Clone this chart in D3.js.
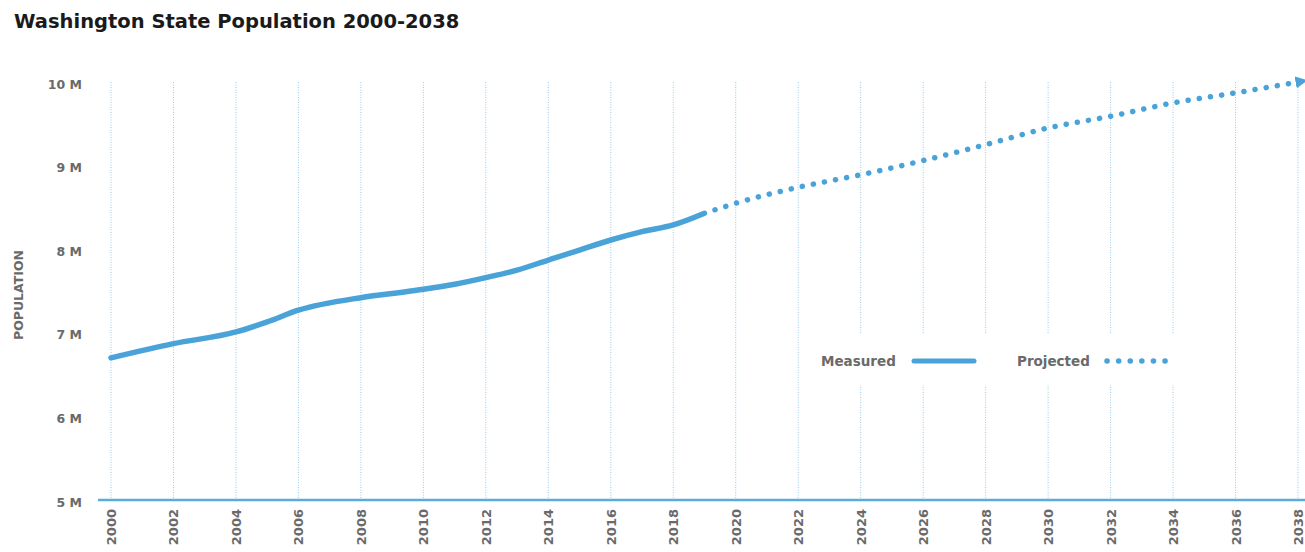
<!DOCTYPE html>
<html>
<head>
<meta charset="utf-8">
<script src="https://cdn.jsdelivr.net/npm/d3@7"></script>
<style>
  body { margin: 0; background: #fff; }
  text { font-family: "DejaVu Sans", Lato, sans-serif; }
</style>
</head>
<body>
<svg id="chart" width="1305" height="552"></svg>
<script>
// Washington State population, millions
var measuredYears = [2000, 2002, 2004, 2005, 2006, 2008, 2009, 2010, 2011, 2012, 2013, 2014, 2015, 2016, 2017, 2018, 2019];
var measuredPop   = [6.70, 6.87, 7.01, 7.13, 7.27, 7.42, 7.47, 7.52, 7.58, 7.66, 7.75, 7.87, 7.99, 8.11, 8.21, 8.29, 8.43];

var projectedYears = [2019, 2020, 2022, 2024, 2026, 2028, 2030, 2032, 2034, 2036, 2038];
var projectedPop   = [8.43, 8.55, 8.74, 8.89, 9.06, 9.25, 9.45, 9.59, 9.75, 9.87, 10.0];

var yTicks = [5, 6, 7, 8, 9, 10];
var xTicks = d3.range(2000, 2039, 2);

var lineColor = "#4aa3d8";
var labelColor = "#6a6a6a";

var svg = d3.select("#chart");

var x = d3.scaleLinear().domain([2000, 2038]).range([111, 1298]);
var y = d3.scaleLinear().domain([5, 10]).range([500, 82]);

svg.append("text")
  .attr("x", 14)
  .attr("y", 28)
  .style("font-size", "19.5px")
  .style("font-weight", 700)
  .style("fill", "#1a1a1a")
  .text("Washington State Population 2000-2038");

// dotted vertical gridlines
svg.append("g")
  .selectAll("line")
  .data(xTicks)
  .enter().append("line")
  .attr("x1", function(d){ return x(d); })
  .attr("x2", function(d){ return x(d); })
  .attr("y1", y(10))
  .attr("y2", y(5))
  .style("stroke", "#9cc9e6")
  .style("stroke-width", 1)
  .style("stroke-dasharray", "1,1.5");

// y labels
svg.append("g")
  .selectAll("text")
  .data(yTicks)
  .enter().append("text")
  .attr("x", 82)
  .attr("y", function(d){ return y(d) + 6.5; })
  .attr("text-anchor", "end")
  .style("font-size", "12.5px")
  .style("font-weight", 700)
  .style("fill", labelColor)
  .text(function(d){ return d + " M"; });

svg.append("text")
  .attr("transform", "translate(23,295) rotate(-90)")
  .attr("text-anchor", "middle")
  .style("font-size", "12.5px")
  .style("font-weight", 700)
  .style("fill", labelColor)
  .text("POPULATION");

// x axis line
svg.append("line")
  .attr("x1", 98).attr("x2", 1305)
  .attr("y1", y(5)).attr("y2", y(5))
  .style("stroke", "#5aaddb")
  .style("stroke-width", 2.5);

// x labels
svg.append("g")
  .selectAll("text")
  .data(xTicks)
  .enter().append("text")
  .attr("transform", function(d){ return "translate(" + (x(d) + 5) + ",509) rotate(-90)"; })
  .attr("text-anchor", "end")
  .style("font-size", "13px")
  .style("font-weight", 700)
  .style("fill", labelColor)
  .text(function(d){ return d; });

// legend box (hides gridlines behind it)
var legend = svg.append("g");
legend.append("rect")
  .attr("x", 806).attr("y", 333)
  .attr("width", 382).attr("height", 52)
  .style("fill", "#fff");
legend.append("text")
  .attr("x", 821).attr("y", 366)
  .style("font-size", "13.5px").style("font-weight", 700).style("fill", labelColor)
  .text("Measured");
legend.append("line")
  .attr("x1", 914).attr("x2", 974).attr("y1", 361).attr("y2", 361)
  .style("stroke", lineColor).style("stroke-width", 5).style("stroke-linecap", "round");
legend.append("text")
  .attr("x", 1017).attr("y", 366)
  .style("font-size", "13.5px").style("font-weight", 700).style("fill", labelColor)
  .text("Projected");
legend.append("line")
  .attr("x1", 1107).attr("x2", 1168).attr("y1", 361).attr("y2", 361)
  .style("stroke", lineColor).style("stroke-width", 5.5).style("stroke-linecap", "round")
  .style("stroke-dasharray", "0.1,11.5");

// arrow marker
svg.append("defs").append("marker")
  .attr("id", "arrow")
  .attr("viewBox", "0 0 10 10")
  .attr("refX", 2).attr("refY", 5)
  .attr("markerWidth", 2.2).attr("markerHeight", 2.2)
  .attr("markerUnits", "strokeWidth")
  .attr("orient", "auto")
  .append("path")
  .attr("d", "M0,0 L10,5 L0,10 Z")
  .style("fill", lineColor);

var line = d3.line()
  .x(function(d){ return x(d[0]); })
  .y(function(d){ return y(d[1]); })
  .curve(d3.curveMonotoneX);

svg.append("path")
  .datum(d3.zip(measuredYears, measuredPop))
  .attr("d", line)
  .style("fill", "none")
  .style("stroke", lineColor)
  .style("stroke-width", 5.5)
  .style("stroke-linecap", "round");

svg.append("path")
  .datum(d3.zip(projectedYears, projectedPop))
  .attr("d", line)
  .style("fill", "none")
  .style("stroke", lineColor)
  .style("stroke-width", 5.5)
  .style("stroke-linecap", "round")
  .style("stroke-dasharray", "0.1,11.2")
  .style("stroke-dashoffset", -11)
  .attr("marker-end", "url(#arrow)");
</script>
</body>
</html>
